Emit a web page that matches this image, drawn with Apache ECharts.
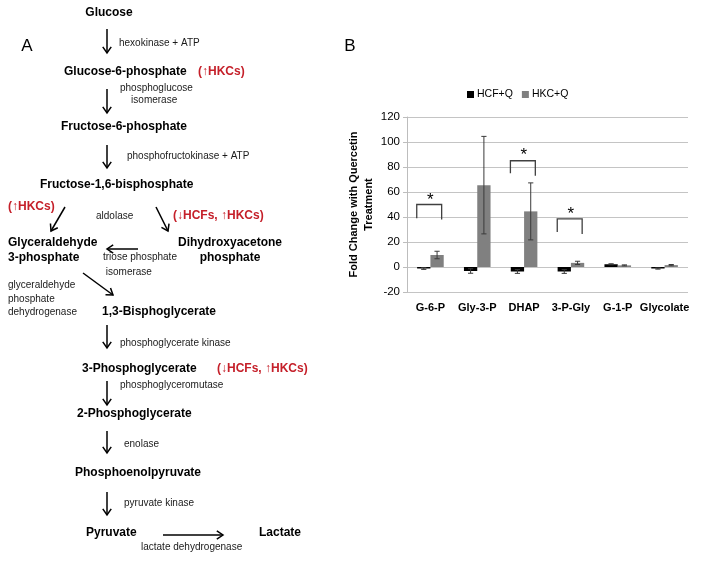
<!DOCTYPE html>
<html>
<head>
<meta charset="utf-8">
<script src="https://cdn.jsdelivr.net/npm/echarts@6/dist/echarts.min.js"></script>
<style>
html,body{margin:0;padding:0;background:#fff;}
#main{width:704px;height:562px;}
</style>
</head>
<body>
<div id="main"></div>
<script>
// ---------- Panel B data ----------
const categories = ['G-6-P', 'Gly-3-P', 'DHAP', '3-P-Gly', 'G-1-P', 'Glycolate'];
const seriesNames = ['HCF+Q', 'HKC+Q'];
const hcfValues = [-1.2, -3.2, -3.6, -3.6, 2.2, -1.2];
const hcfErrors = [0.7, 1.8, 1.5, 1.5, 0.4, 0.5];
const hkcValues = [9.6, 65.5, 44.5, 3.3, 1.3, 1.5];
const hkcErrors = [3.0, 39.0, 22.8, 1.3, 0.4, 0.5];
const yMin = -20, yMax = 120, yStep = 20;
const yAxisTitle = 'Fold Change with Quercetin\nTreatment';
// significance brackets (category index, bracket top, left end, right end, star level)
const sigCats = [0, 2, 3];
const sigTop = [50, 85, 38.5];
const sigLeftEnd = [39, 75, 28];
const sigRightEnd = [38, 73, 26.5];
const sigStarY = [56.3, 92.3, 45.6];
const sigMark = ['*', '*', '*'];

// ---------- Panel A content ----------
const panelLabels = ['A', 'B'];
const metabolites = ['Glucose', 'Glucose-6-phosphate', 'Fructose-6-phosphate', 'Fructose-1,6-bisphosphate',
  'Glyceraldehyde\n3-phosphate', 'Dihydroxyacetone\nphosphate', '1,3-Bisphoglycerate', '3-Phosphoglycerate',
  '2-Phosphoglycerate', 'Phosphoenolpyruvate', 'Pyruvate', 'Lactate'];
const enzymes = ['hexokinase + ATP', 'phosphoglucose\n    isomerase', 'phosphofructokinase + ATP', 'aldolase',
  'triose phosphate\n isomerase', 'glyceraldehyde\nphosphate\ndehydrogenase', 'phosphoglycerate kinase',
  'phosphoglyceromutase', 'enolase', 'pyruvate kinase', 'lactate dehydrogenase'];
const changes = ['(\u2191HKCs)', '(\u2191HKCs)', '(\u2193HCFs, \u2191HKCs)', '(\u2193HCFs, \u2191HKCs)'];

// ---------- layout (positions only) ----------
const metaboliteLayout = [
  {x:109, y:13, align:'center'}, {x:64, y:72}, {x:61, y:127}, {x:40, y:185},
  {x:8, y:250}, {x:230, y:250, align:'center'}, {x:102, y:312}, {x:82, y:369},
  {x:77, y:414}, {x:75, y:473}, {x:86, y:533}, {x:259, y:533}];
const enzymeLayout = [
  {x:119, y:43}, {x:120, y:94}, {x:127, y:156}, {x:96, y:216},
  {x:103, y:265}, {x:8, y:299}, {x:120, y:343}, {x:120, y:385},
  {x:124, y:444}, {x:124, y:503}, {x:141, y:547}];
const enzymeLineHeights = [12, 12, 12, 12, 15, 13.5, 12, 12, 12, 12, 12];
const changeLayout = [{x:198, y:72}, {x:8, y:207}, {x:173, y:216}, {x:217, y:369}];
const arrowLayout = [
  [107, 29, 107, 53], [107, 89, 107, 113], [107, 145, 107, 168],
  [65, 207, 51, 231], [156, 207, 168, 231], [138, 249, 107, 249],
  [83, 273, 113, 295], [107, 325, 107, 348], [107, 381, 107, 405],
  [107, 431, 107, 453], [107, 492, 107, 515], [163, 535, 223, 535]];

const FONT = '"Liberation Sans", Arial, sans-serif';
const RED = '#c5202a';

function txt(text, x, y, font, fill, align, lh) {
  return {
    type: 'text', silent: true,
    style: {text: text, x: x, y: y, font: font, fill: fill,
      align: align || 'left', verticalAlign: 'middle',
      textAlign: align || 'left', textVerticalAlign: 'middle',
      lineHeight: lh || 14}
  };
}
function arrow(a) {
  const [x1, y1, x2, y2] = a;
  const ang = Math.atan2(y2 - y1, x2 - x1);
  const L = 7.5, sp = 0.6;
  const h1 = [x2 - L * Math.cos(ang - sp), y2 - L * Math.sin(ang - sp)];
  const h2 = [x2 - L * Math.cos(ang + sp), y2 - L * Math.sin(ang + sp)];
  return {
    type: 'group', silent: true, children: [
      {type: 'line', shape: {x1: x1, y1: y1, x2: x2, y2: y2}, style: {stroke: '#000', lineWidth: 1.5}},
      {type: 'polyline', shape: {points: [h1, [x2, y2], h2]}, style: {stroke: '#000', lineWidth: 1.5, fill: null}}
    ]
  };
}

const graphics = [];
graphics.push(txt(panelLabels[0], 27, 46, '17px ' + FONT, '#000', 'center'));
graphics.push(txt(panelLabels[1], 350, 46, '17px ' + FONT, '#000', 'center'));
metabolites.forEach((m, i) => {
  const p = metaboliteLayout[i];
  graphics.push(txt(m, p.x, p.y, 'bold 12px ' + FONT, '#000', p.align || 'left', 15));
});
enzymes.forEach((e, i) => {
  const p = enzymeLayout[i];
  graphics.push(txt(e, p.x, p.y, '10px ' + FONT, '#1a1a1a', 'left', enzymeLineHeights[i]));
});
changes.forEach((c, i) => {
  const p = changeLayout[i];
  graphics.push(txt(c, p.x, p.y, 'bold 12px ' + FONT, RED, 'left'));
});
arrowLayout.forEach(a => graphics.push(arrow(a)));

// ---------- chart ----------
const BAR_FRAC = 0.284;
function errRender(sign) {
  return function (params, api) {
    const i = api.value(0), v = api.value(1), e = api.value(2);
    const band = api.size([1, 0])[0];
    const bw = band * BAR_FRAC;
    const cx = api.coord([i, v])[0] + sign * bw / 2;
    const yHi = api.coord([i, v + e])[1];
    const yLo = api.coord([i, v - e])[1];
    const cap = 2.6;
    const st = {stroke: '#3a3a3a', lineWidth: 1};
    return {
      type: 'group', children: [
        {type: 'line', shape: {x1: cx, y1: yHi, x2: cx, y2: yLo}, style: st},
        {type: 'line', shape: {x1: cx - cap, y1: yHi, x2: cx + cap, y2: yHi}, style: st},
        {type: 'line', shape: {x1: cx - cap, y1: yLo, x2: cx + cap, y2: yLo}, style: st}
      ]
    };
  };
}
function sigRender(params, api) {
  const i = api.value(0), top = api.value(1), le = api.value(2), re = api.value(3), sy = api.value(4);
  const band = api.size([1, 0])[0];
  const c = api.coord([i, top]);
  const xl = c[0] - band * 0.292, xr = c[0] + band * 0.24;
  const yl = api.coord([i, le])[1], yr = api.coord([i, re])[1];
  const ys = api.coord([i, sy])[1];
  return {
    type: 'group', children: [
      {type: 'polyline', shape: {points: [[xl, yl], [xl, c[1]], [xr, c[1]], [xr, yr]]},
        style: {stroke: '#404040', lineWidth: 1.3, fill: null}},
      {type: 'text', style: {text: sigMark[params.dataIndex], x: (xl + xr) / 2 + 1, y: ys + 4,
        font: '17px ' + FONT, fill: '#000', align: 'center', verticalAlign: 'middle',
        textAlign: 'center', textVerticalAlign: 'middle'}}
    ]
  };
}

const chart = echarts.init(document.getElementById('main'), null, {renderer: 'canvas'});
chart.setOption({
  animation: false,
  backgroundColor: '#fff',
  graphic: graphics,
  legend: {
    data: seriesNames, left: 462, top: 84, icon: 'rect', itemWidth: 7, itemHeight: 7, itemGap: 9,
    textStyle: {fontFamily: FONT, fontSize: 10.5, color: '#000', padding: [0, 0, 0, -2]}
  },
  grid: {left: 407, right: 16, top: 117, bottom: 270, containLabel: false},
  xAxis: {
    type: 'category', data: categories, position: 'bottom',
    axisLine: {show: false, onZero: false}, axisTick: {show: false},
    axisLabel: {fontFamily: FONT, fontWeight: 'bold', fontSize: 11, color: '#000', margin: 10, interval: 0}
  },
  yAxis: {
    type: 'value', min: yMin, max: yMax, interval: yStep,
    name: yAxisTitle, nameLocation: 'middle', nameGap: 28,
    nameTextStyle: {fontFamily: FONT, fontWeight: 'bold', fontSize: 11, color: '#000', lineHeight: 15},
    axisLine: {show: true, lineStyle: {color: '#bdbdbd', width: 1}},
    axisTick: {show: true, length: 4, lineStyle: {color: '#bdbdbd'}},
    axisLabel: {fontFamily: FONT, fontSize: 11.5, color: '#000', margin: 7},
    splitLine: {lineStyle: {color: '#c4c4c4', width: 1}}
  },
  series: [
    {name: seriesNames[0], type: 'bar', data: hcfValues, barWidth: (BAR_FRAC * 100) + '%', barGap: '0%',
      itemStyle: {color: '#000'}},
    {name: seriesNames[1], type: 'bar', data: hkcValues, barWidth: (BAR_FRAC * 100) + '%', barGap: '0%',
      itemStyle: {color: '#808080'}},
    {type: 'custom', renderItem: errRender(-1), silent: true, z: 5,
      encode: {x: 0, y: 1}, data: hcfValues.map((v, i) => [i, v, hcfErrors[i]])},
    {type: 'custom', renderItem: errRender(1), silent: true, z: 5,
      encode: {x: 0, y: 1}, data: hkcValues.map((v, i) => [i, v, hkcErrors[i]])},
    {type: 'custom', renderItem: sigRender, silent: true, z: 6,
      encode: {x: 0, y: 1},
      data: sigCats.map((c, k) => [c, sigTop[k], sigLeftEnd[k], sigRightEnd[k], sigStarY[k]])}
  ]
});
</script>
</body>
</html>
